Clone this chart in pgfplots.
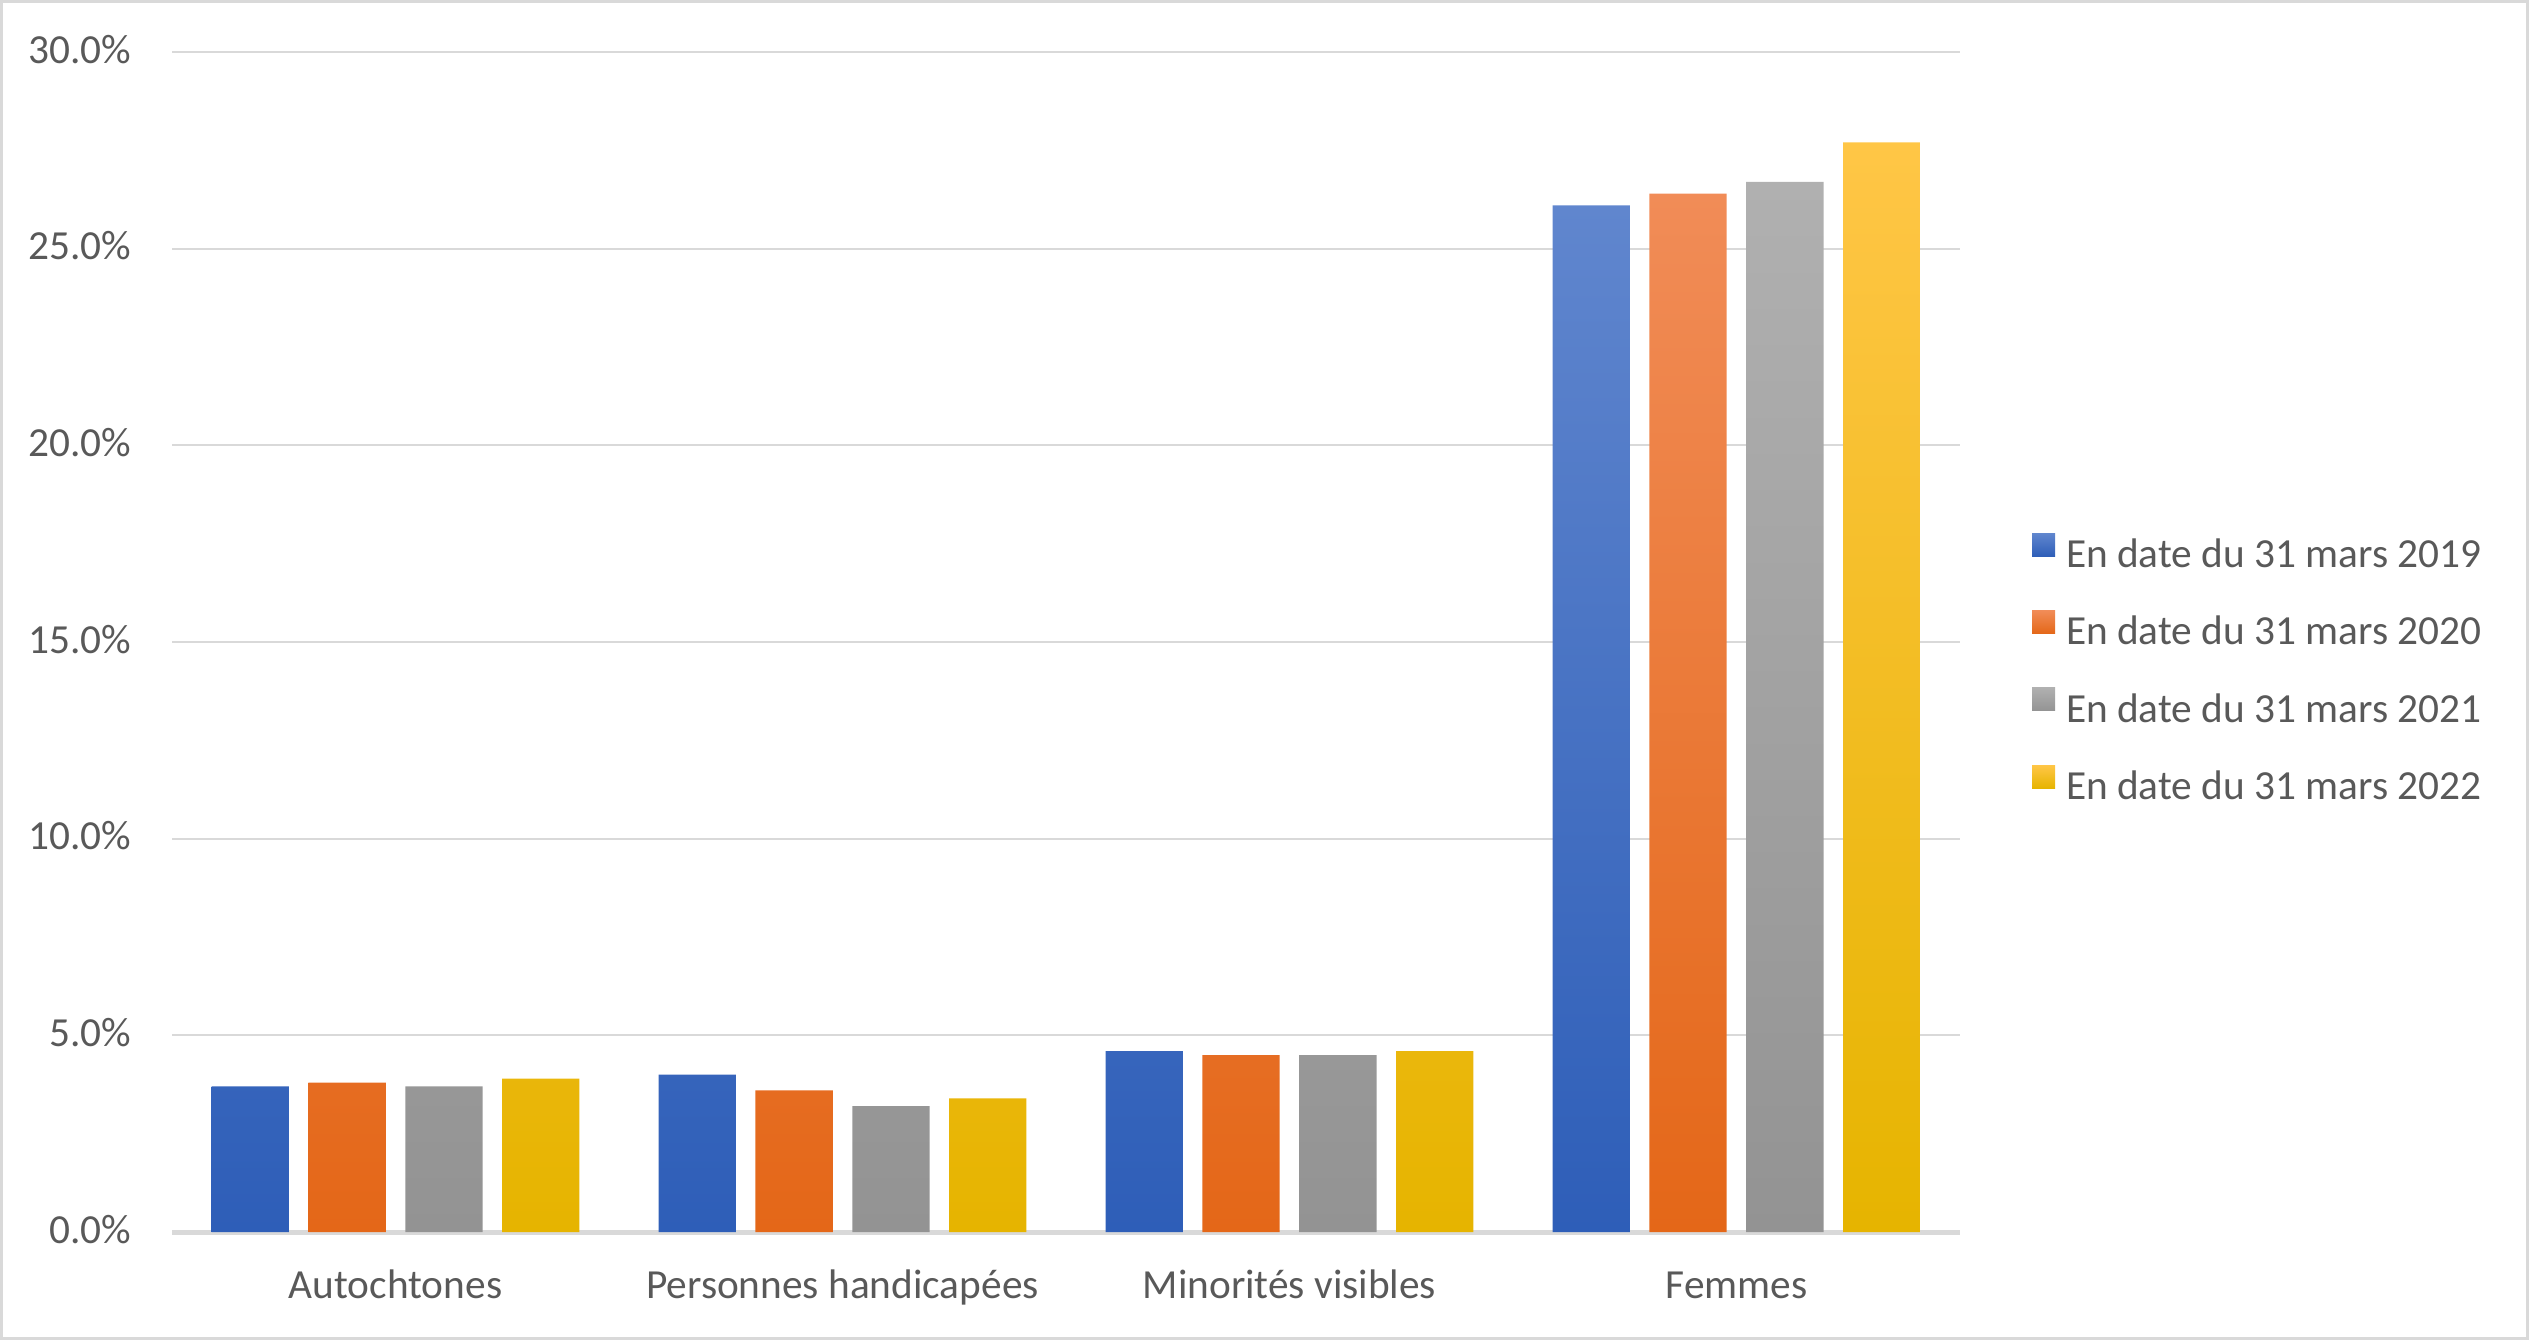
\documentclass[border=0pt]{standalone}
\usepackage{pgfplots}
\pgfplotsset{compat=1.18}
\usepackage{fontspec}
\setmainfont{Carlito}
\definecolor{txt}{HTML}{595959}
\definecolor{gridc}{HTML}{D9D9D9}
\definecolor{bT}{HTML}{6086CE}\definecolor{bM}{HTML}{4472C4}\definecolor{bB}{HTML}{2E5EB8}
\definecolor{oT}{HTML}{F18C57}\definecolor{oM}{HTML}{F47B2A}\definecolor{oB}{HTML}{E46718}
\definecolor{gT}{HTML}{B0B0B0}\definecolor{gM}{HTML}{A5A5A5}\definecolor{gB}{HTML}{939393}
\definecolor{yT}{HTML}{FFC646}\definecolor{yM}{HTML}{FFC200}\definecolor{yB}{HTML}{E6B400}
\begin{document}
\begin{tikzpicture}
\useasboundingbox (0,0) rectangle (758.7pt,402pt);
\draw[gridc, line width=0.9pt] (0.45pt,0.45pt) rectangle (758.25pt,401.55pt);
\begin{axis}[
  at={(51.6pt,32.4pt)}, anchor=south west,
  width=536.4pt, height=354pt, scale only axis,
  xmin=-0.5, xmax=3.5, ymin=0, ymax=30,
  ybar=5.85pt, bar width=23.2pt,
  xtick={0,1,2,3},
  xticklabels={Autochtones, Personnes handicapées, Minorités visibles, Femmes},
  ytick={0,5,10,15,20,25,30},
  yticklabel={\pgfmathprintnumber[fixed,fixed zerofill,precision=1]{\tick}\%},
  /pgf/number format/assume math mode=true,
  major tick length=0pt,
  axis x line*=bottom, axis y line*=left,
  y axis line style={draw=none},
  x axis line style={gridc, line width=1.5pt},
  ymajorgrids, grid style={gridc, line width=0.6pt},
  xticklabel style={font=\fontsize{12.4}{14}\selectfont, text=txt, anchor=base, inner sep=0pt, yshift=-19.8pt},
  yticklabel style={font=\fontsize{12.4}{14}\selectfont, text=txt, anchor=base east, inner sep=0pt, xshift=-12pt, yshift=-3.3pt},
  legend cell align=left,
  legend image code/.code={\path[#1, draw=none] (0pt,-0.6pt) rectangle (6.9pt,6.3pt);},
  legend style={draw=none, fill=none, at={(1.0403,0.5921)}, anchor=north west,
    font=\fontsize{12.4}{14}\selectfont, text=txt, inner sep=0pt, outer sep=0pt,
    column sep=3.3pt, row sep=12.9pt,
    nodes={inner sep=0pt, text height=8pt, text depth=0pt}},
]
\addplot[draw=none, top color=bT, middle color=bM, bottom color=bB] coordinates {(0,3.7) (1,4.0) (2,4.6) (3,26.1)};
\addlegendentry{En date du 31 mars 2019}
\addplot[draw=none, top color=oT, middle color=oM, bottom color=oB] coordinates {(0,3.8) (1,3.6) (2,4.5) (3,26.4)};
\addlegendentry{En date du 31 mars 2020}
\addplot[draw=none, top color=gT, middle color=gM, bottom color=gB] coordinates {(0,3.7) (1,3.2) (2,4.5) (3,26.7)};
\addlegendentry{En date du 31 mars 2021}
\addplot[draw=none, top color=yT, middle color=yM, bottom color=yB] coordinates {(0,3.9) (1,3.4) (2,4.6) (3,27.7)};
\addlegendentry{En date du 31 mars 2022}
\end{axis}
\end{tikzpicture}
\end{document}
